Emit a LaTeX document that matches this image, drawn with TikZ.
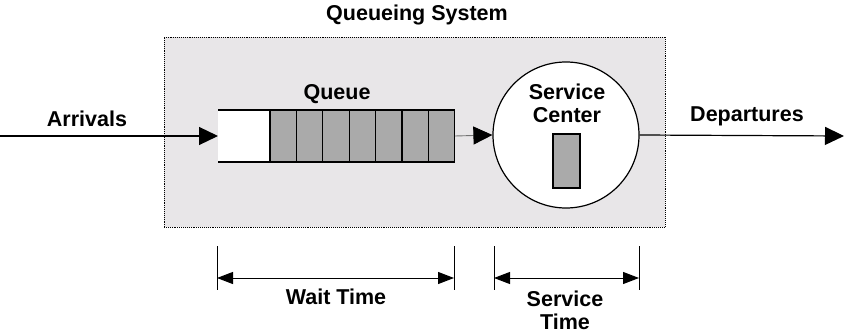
\documentclass[tikz,border=0pt]{standalone}
\usepackage{fontspec}
\setmainfont{Liberation Sans}
\usetikzlibrary{arrows.meta, positioning}
\definecolor{boxgray}{RGB}{232,230,232}
\definecolor{cellgray}{RGB}{170,170,170}

\begin{document}
\begin{tikzpicture}[x=1pt, y=-1pt, line width=1.2pt,
  >={Triangle[length=19pt,width=18pt]},
  lbl/.style={font=\fontsize{21.5}{23}\selectfont\bfseries, align=center, inner sep=0pt},
  cell/.style={draw, fill=cellgray, minimum width=26.4pt, minimum height=52pt, inner sep=0pt, outer sep=0pt, anchor=west},
  span/.style={<->, >={Triangle[length=16pt,width=12pt]}, line width=1pt}]
  \useasboundingbox (0,0) rectangle (844,334);

  \node[draw, densely dotted, line width=0.9pt, fill=boxgray, minimum width=501pt, minimum height=190pt, inner sep=0pt] (sys) at (414.5,132) {};
  \node[lbl] (title) at (417,15) {Queueing System};

  % queue
  \node[fill=white, minimum width=52pt, minimum height=52pt, inner sep=0pt, outer sep=0pt, anchor=west] (c0) at (218,136) {};
  \draw (c0.north west) -- (c0.north east);
  \draw (c0.south west) -- (c0.south east);
  \foreach \i [remember=\i as \j (initially 0)] in {1,...,7}
    \node[cell] (c\i) at (c\j.east) {};
  \node[lbl] (qlabel) at (337,94) {Queue};

  % server
  \node[circle, draw, fill=white, minimum size=146pt, inner sep=0pt] (srv) at (566,135) {};
  \node[lbl] (slabel) at (567,103) {Service\\Center};
  \node[draw, fill=cellgray, minimum width=27pt, minimum height=54pt, inner sep=0pt] (job) at (566.5,161) {};

  % flow
  \coordinate (in) at (0,136);
  \coordinate (out) at (844,136);
  \draw[->] (in) -- (c0.west);
  \draw[-{Triangle[length=19pt,width=18pt,color=black]}, draw=black!55, line width=0.9pt] (c7.east) -- (srv.west);
  \draw[->] (srv.east) -- (out);
  \node[lbl] (arr) at (87,119) {Arrivals};
  \node[lbl] (dep) at (747,116) {Departures};

  % spans
  \coordinate (wa) at (217,278);
  \coordinate (wb) at (454,278);
  \coordinate (sa) at (494,278);
  \coordinate (sb) at (639,278);
  \foreach \p in {wa,wb,sa,sb}
    \draw[line width=1pt] (\p) ++(0,-32) -- ++(0,44);
  \draw[span] (wa) -- (wb);
  \draw[span] (sa) -- (sb);
  \node[lbl] (wait) at (336,297) {Wait Time};
  \node[lbl] (stime) at (565,310) {Service\\Time};
\end{tikzpicture}
\end{document}
